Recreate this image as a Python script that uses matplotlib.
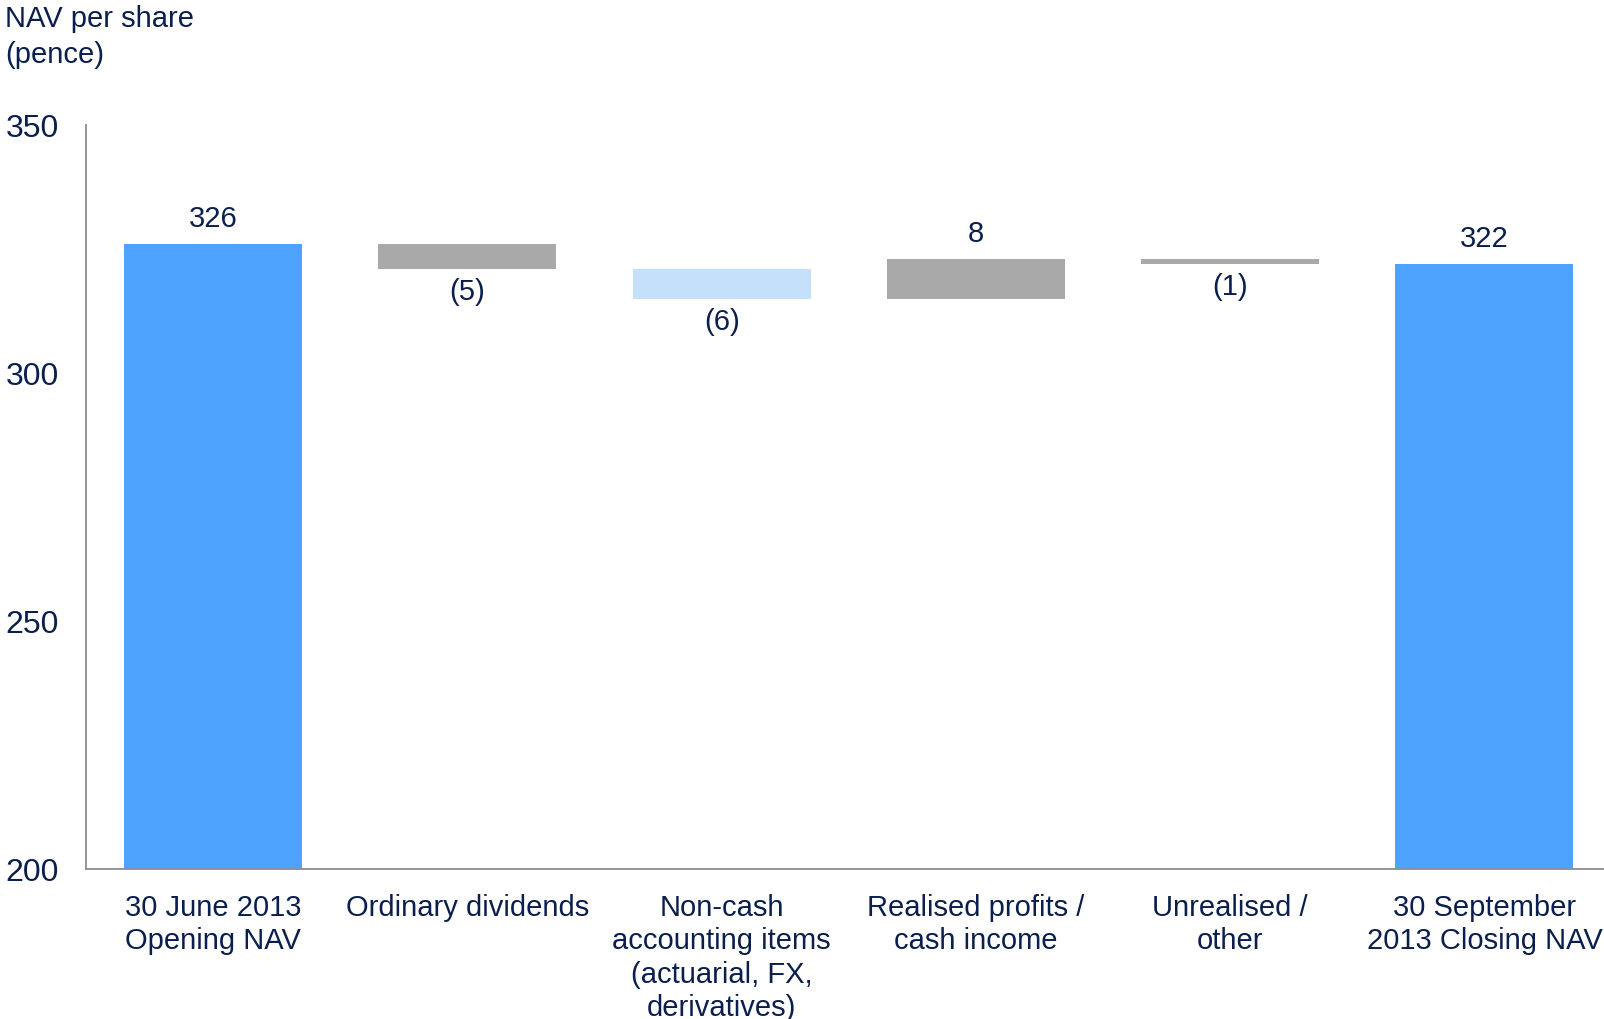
import matplotlib
matplotlib.use("Agg")
import matplotlib.pyplot as plt

categories = ["30 June 2013\nOpening NAV", "Ordinary dividends",
              "Non-cash\naccounting items\n(actuarial, FX,\nderivatives)",
              "Realised profits /\ncash income", "Unrealised /\nother",
              "30 September\n2013 Closing NAV"]
opening = 326
deltas = [-5, -6, 8, -1]
closing = 322
value_labels = ["326", "(5)", "(6)", "8", "(1)", "322"]
yticks = [200, 250, 300, 350]

plt.rcParams['font.family'] = ['Liberation Sans', 'DejaVu Sans']
navy = "#0B1F4E"
blue = "#4DA3FF"
grey = "#A9A9A9"
light = "#C5E0FB"
colors = [blue, grey, light, grey, grey, blue]

fig = plt.figure(figsize=(16.04, 10.20), dpi=100)
ax_top, ax_bot = 126, 870
ax = fig.add_axes([86/1604, 1-ax_bot/1020, 1-86/1604, (ax_bot-ax_top)/1020])

bottoms, heights = [], []
bottoms.append(200); heights.append(opening - 200)
level = opening
for d in deltas:
    new = level + d
    bottoms.append(min(level, new)); heights.append(abs(d))
    level = new
bottoms.append(200); heights.append(closing - 200)

x = list(range(len(categories)))
ax.bar(x, heights, bottom=bottoms, width=0.70, color=colors, zorder=2)

ax.set_ylim(200, 350)
ax.set_xlim(-0.5, 5.47)
ax.set_yticks(yticks)
ax.set_xticks(x)
ax.set_xticklabels(categories, fontsize=21, color=navy, linespacing=1.25, va='top')
ax.tick_params(axis='x', length=0, pad=17)
ax.tick_params(axis='y', length=0, pad=58, labelsize=23, labelcolor=navy)
for lab in ax.get_yticklabels():
    lab.set_horizontalalignment('left')
for s in ['top', 'right']:
    ax.spines[s].set_visible(False)
for s in ['left', 'bottom']:
    ax.spines[s].set_color('#8C8C99')
    ax.spines[s].set_linewidth(1.3)

# value labels
vals = [opening] + deltas + [closing]
for i, (v, lab) in enumerate(zip(vals, value_labels)):
    top = bottoms[i] + heights[i]
    if i in (0, len(vals) - 1) or v > 0:
        ax.annotate(lab, (i, top), xytext=(0, 8.5), textcoords='offset points',
                    ha='center', va='bottom', fontsize=21, color=navy)
    else:
        ax.annotate(lab, (i, bottoms[i]), xytext=(0, -6), textcoords='offset points',
                    ha='center', va='top', fontsize=21, color=navy)

fig.text(5/1604, 1-5/1020, "NAV per share\n(pence)", ha='left', va='top',
         fontsize=21, color=navy, linespacing=1.38)

fig.savefig("out.png", dpi=100)
